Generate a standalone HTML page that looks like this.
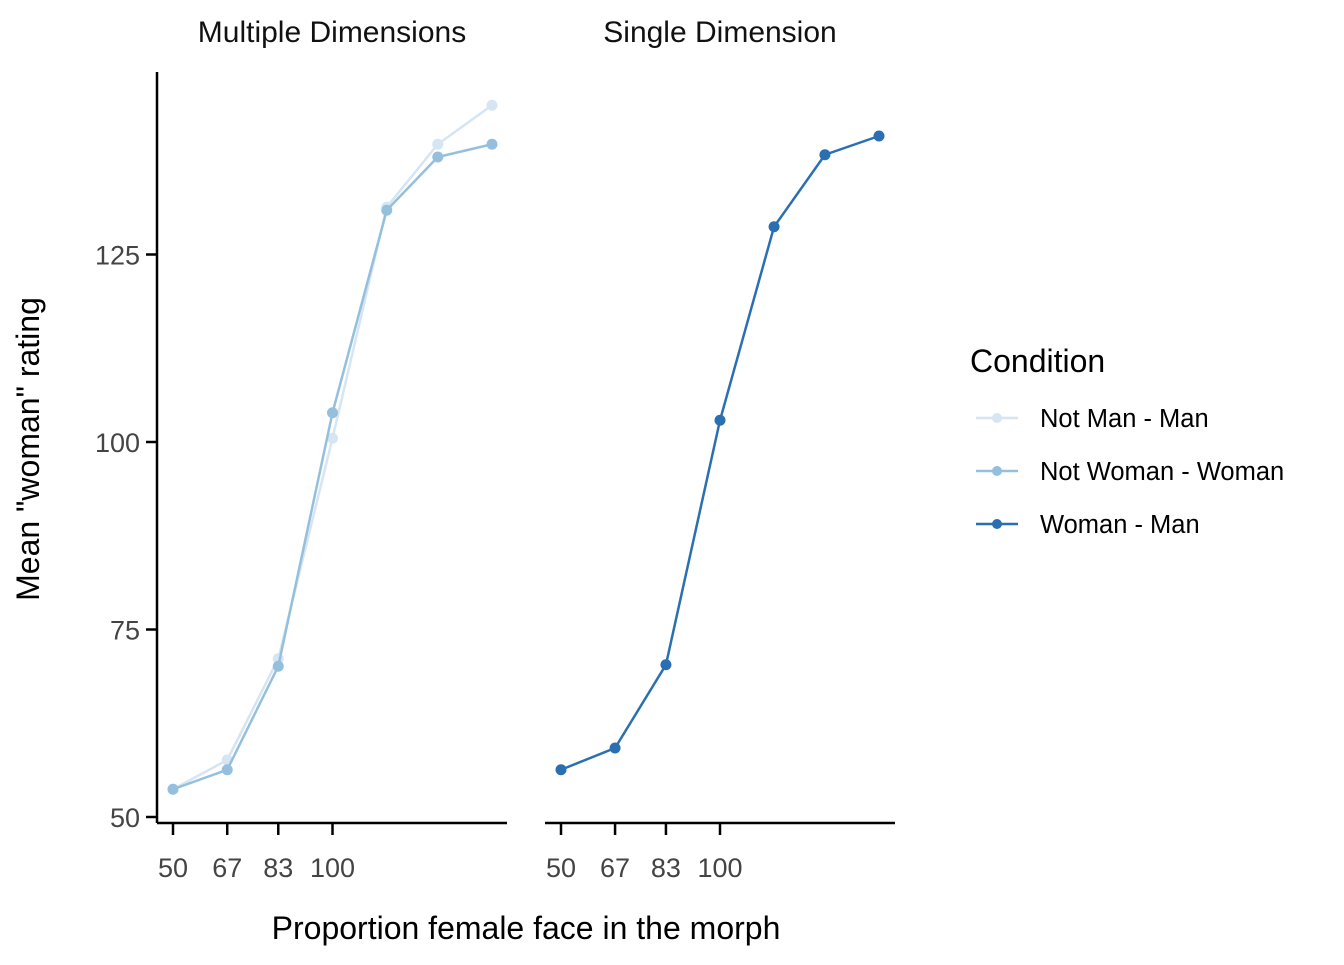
<!DOCTYPE html>
<html><head><meta charset="utf-8"><style>
body{margin:0;background:#fff}
svg text{font-family:"Liberation Sans",Arial,sans-serif}
</style></head><body>
<svg id="chart" width="1344" height="960">
<g id="axes"></g>
<g id="marks"></g>
<text x="332" y="42" text-anchor="middle" font-size="30" fill="#111">Multiple Dimensions</text>
<text x="720" y="42" text-anchor="middle" font-size="30" fill="#111">Single Dimension</text>
<text x="526" y="939" text-anchor="middle" font-size="32" fill="#000">Proportion female face in the morph</text>
<text transform="translate(39,449) rotate(-90)" text-anchor="middle" font-size="32" fill="#000">Mean "woman" rating</text>
<g>
<text x="970" y="372" font-size="32" fill="#000">Condition</text>
<g><line x1="976" y1="418" x2="1018" y2="418" stroke="#d5e5f3" stroke-width="2.5"/><circle cx="997" cy="418" r="5" fill="#d5e5f3"/><text x="1040" y="427" font-size="25.5">Not Man - Man</text></g>
<g><line x1="976" y1="471" x2="1018" y2="471" stroke="#94c0dd" stroke-width="2.5"/><circle cx="997" cy="471" r="5" fill="#94c0dd"/><text x="1040" y="480" font-size="25.5">Not Woman - Woman</text></g>
<g><line x1="976" y1="524" x2="1018" y2="524" stroke="#2b6fb3" stroke-width="2.5"/><circle cx="997" cy="524" r="5" fill="#2b6fb3"/><text x="1040" y="533" font-size="25.5">Woman - Man</text></g>
</g>
</svg>
<script>
const xValues=[50,67,83,100,117,133,150];
const xTickLabels=[50,67,83,100];
const yTicks=[50,75,100,125];
const notManMan=[53.7,57.6,71.1,100.5,131.3,139.7,144.9];
const notWomanWoman=[53.7,56.3,70.1,103.9,130.9,138,139.7];
const womanMan=[56.3,59.2,70.3,102.9,128.7,138.3,140.8];
const NS="http://www.w3.org/2000/svg";
const y=v=>817-(v-50)*7.5;
const xL=v=>173+(v-50)*(319/100);
const xR=v=>561+(v-50)*(318/100);
const axes=document.getElementById('axes'),marks=document.getElementById('marks');
function mk(tag,attrs,parent){const e=document.createElementNS(NS,tag);for(const k in attrs)e.setAttribute(k,attrs[k]);parent.appendChild(e);return e;}
let yl=mk('line',{x1:157,y1:72,x2:157,y2:823,stroke:'#000','stroke-width':2.5},axes);


yTicks.forEach(t=>{
 mk('line',{x1:146,y1:y(t),x2:157,y2:y(t),stroke:'#000','stroke-width':2.5},axes);
 const tx=mk('text',{x:140,y:y(t)+10,'text-anchor':'end','font-size':27,fill:'#444'},axes);tx.textContent=t;
 
 
});
[[xL,157,507],[xR,545,895]].forEach(([fx,a,b])=>{
 const l=mk('line',{x1:a,y1:823,x2:b,y2:823,stroke:'#000','stroke-width':2.5},axes);
 
 
 xTickLabels.forEach(t=>{
  mk('line',{x1:fx(t),y1:823,x2:fx(t),y2:835,stroke:'#000','stroke-width':2.5},axes);
  const tx=mk('text',{x:fx(t),y:877,'text-anchor':'middle','font-size':27,fill:'#444'},axes);tx.textContent=t;
  
  
 });
});
function series(vals,fx,col,name){
 const p=mk('polyline',{points:vals.map((v,i)=>fx(xValues[i])+','+y(v)).join(' '),fill:'none',stroke:col,'stroke-width':2.5},marks);
 
 
 vals.forEach((v,i)=>{const c=mk('circle',{cx:fx(xValues[i]),cy:y(v),r:5.5,fill:col},marks);
  
  });
}
series(notManMan,xL,'#d5e5f3','not-man-man');
series(notWomanWoman,xL,'#94c0dd','not-woman-woman');
series(womanMan,xR,'#2b6fb3','woman-man');
</script>
</body></html>
